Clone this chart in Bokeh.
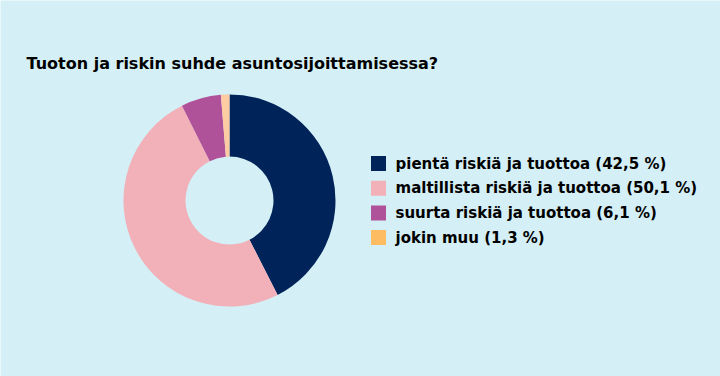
import math
from bokeh.plotting import figure
from bokeh.models import Range1d, ColumnDataSource
from bokeh.core.properties import value
from bokeh.embed import file_html
from bokeh.resources import INLINE

title = "Tuoton ja riskin suhde asuntosijoittamisessa?"
categories = ["pientä riskiä ja tuottoa", "maltillista riskiä ja tuottoa",
              "suurta riskiä ja tuottoa", "jokin muu"]
shares = [42.5, 50.1, 6.1, 1.3]
pie_colors = ["#00245a", "#f2b0b9", "#b0529a", "#ffcba3"]
legend_colors = ["#00245a", "#f2b0b9", "#b0529a", "#fdbb62"]

W, H = 720, 376
BG = "#d4eff5"

p = figure(width=W, height=H, output_backend="svg", toolbar_location=None,
           x_range=Range1d(0, W), y_range=Range1d(0, H), min_border=0)
p.axis.visible = False
p.grid.visible = False
p.outline_line_color = None
p.background_fill_color = BG
p.border_fill_color = BG

# donut
total = sum(shares)
starts, ends = [], []
acc = 0.0
for s in shares:
    a0 = math.pi / 2 - 2 * math.pi * acc / total
    acc += s
    a1 = math.pi / 2 - 2 * math.pi * acc / total
    starts.append(a0)
    ends.append(a1)

cx, cy = 229, H - 200
src = ColumnDataSource(dict(start=starts, end=ends, color=pie_colors))
p.annular_wedge(x=cx, y=cy, inner_radius=44, outer_radius=106,
                inner_radius_units="screen", outer_radius_units="screen",
                start_angle="start", end_angle="end", direction="clock",
                fill_color="color", line_color=None, source=src)

# title
p.text(x=[26], y=[H - 63], text=[title], text_font=value("DejaVu Sans"),
       text_font_style="bold", text_font_size="16px", text_color="#000000",
       text_baseline="middle", text_align="left")

# legend
labels = [f"{c} ({str(v).replace('.', ',')} %)" for c, v in zip(categories, shares)]
ly = [H - (163 + i * 24.7) for i in range(len(labels))]
lsrc = ColumnDataSource(dict(x=[378] * len(labels), tx=[395] * len(labels),
                             y=ly, label=labels, color=legend_colors))
p.rect(x="x", y="y", width=15, height=15, width_units="screen",
       height_units="screen", fill_color="color", line_color=None, source=lsrc)
p.text(x="tx", y="y", text="label", text_font=value("DejaVu Sans"),
       text_font_style="bold", text_font_size="15px", text_color="#000000",
       text_baseline="middle", text_align="left", source=lsrc)

open("out.html", "w").write(file_html(p, INLINE))
